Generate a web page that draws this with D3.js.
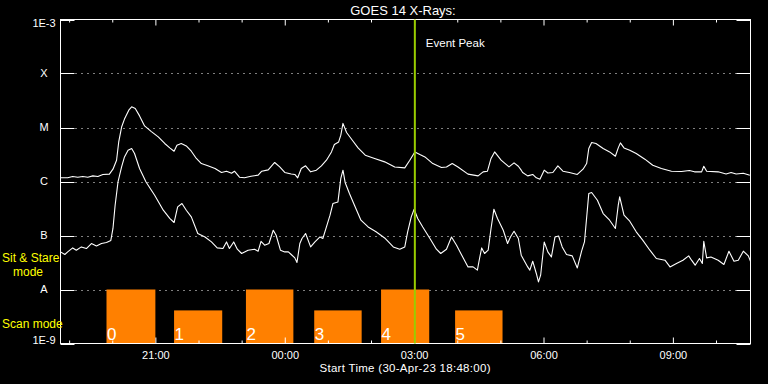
<!DOCTYPE html>
<html>
<head>
<meta charset="utf-8">
<script src="https://cdn.jsdelivr.net/npm/d3@7"></script>
<style>
  html, body { margin: 0; padding: 0; background: #000; }
  svg { display: block; }
  text { font-family: "Liberation Sans", Arial, sans-serif; fill: #fff; }
</style>
</head>
<body>
<script>
// ---------------- DATA ----------------
const startTime = "2023-04-30T18:48:00Z";
const durationMinutes = 960;
const titleText = "GOES 14 X-Rays:";
const xAxisTitle = "Start Time (30-Apr-23 18:48:00)";

const yTickValues = [1e-9, 1e-8, 1e-7, 1e-6, 1e-5, 1e-4, 1e-3];
const yTickLabels = ["1E-9", "A", "B", "C", "M", "X", "1E-3"];

// Long channel (1-8 A), minutes after start / flux W m^-2
const longMinutes = [0,10,17,24,31,38,45,52,59,68,
  73,78,81,85,89,95,99,104,110,117,
  126,136,145,152,158,162,168,175,182,189,
  196,205,215,224,231,238,242,249,256,265,
  275,280,289,298,305,312,321,326,330,335,
  341,348,356,363,370,377,381,387,390,393,
  398,405,414,424,437,451,465,479,486,493,
  500,507,518,530,537,545,553,567,581,588,
  594,599,604,613,624,631,637,641,643,650,
  657,662,667,673,678,685,692,699,708,719,
  727,732,735,739,745,755,764,772,776,779,
  784,792,801,813,824,836,850,864,875,882,
  892,895,899,915,926,933,940,950,959];
const longFlux = [1.17e-6,1.17e-6,1.24e-6,1.2e-6,1.24e-6,1.2e-6,1.27e-6,1.24e-6,1.35e-6,1.37e-6,
  1.69e-6,2.48e-6,5.4e-6,1.02e-5,1.43e-5,2.09e-5,2.41e-5,2.25e-5,1.64e-5,1.07e-5,
  8.5e-6,6.7e-6,5.06e-6,4.19e-6,3.64e-6,4.7e-6,5.06e-6,4.56e-6,3.64e-6,2.67e-6,
  2.15e-6,1.95e-6,1.74e-6,1.47e-6,1.55e-6,1.42e-6,1.55e-6,1.2e-6,1.17e-6,1.25e-6,
  1.31e-6,1.55e-6,1.64e-6,2.25e-6,1.86e-6,1.47e-6,1.38e-6,1.35e-6,1.17e-6,1.74e-6,
  1.95e-6,1.51e-6,1.62e-6,1.95e-6,2.48e-6,3.53e-6,4.84e-6,5.41e-6,7.2e-6,1.19e-5,
  8.09e-6,6.07e-6,4.19e-6,3.07e-6,2.67e-6,2.31e-6,1.86e-6,1.79e-6,2.48e-6,3.53e-6,
  3.16e-6,2.85e-6,2.15e-6,1.82e-6,1.86e-6,2.15e-6,1.86e-6,1.37e-6,1.27e-6,1.51e-6,
  1.55e-6,2.67e-6,3.53e-6,2.48e-6,1.86e-6,2.21e-6,1.92e-6,1.62e-6,1.47e-6,1.27e-6,
  1.35e-6,1.17e-6,1.1e-6,1.62e-6,1.44e-6,1.47e-6,1.95e-6,1.55e-6,1.47e-6,1.35e-6,
  1.69e-6,2.15e-6,4.08e-6,5.27e-6,5.06e-6,4.08e-6,3.53e-6,2.94e-6,4.19e-6,5.19e-6,
  4.19e-6,3.8e-6,3.3e-6,2.59e-6,2.0e-6,1.74e-6,1.55e-6,1.53e-6,1.6e-6,1.51e-6,
  1.51e-6,1.92e-6,1.55e-6,1.51e-6,1.38e-6,1.47e-6,1.38e-6,1.42e-6,1.31e-6];

// Short channel (0.5-4 A)
const shortMinutes = [0,6,10,17,22,29,36,43,50,57,
  64,70,73,76,80,85,89,94,99,103,
  110,119,131,143,152,158,163,169,175,182,
  191,201,210,218,226,231,235,241,246,252,
  261,270,275,279,284,290,296,300,306,312,
  317,321,326,329,333,336,341,348,354,361,
  365,370,375,379,386,390,393,396,402,409,
  418,428,439,451,463,472,479,483,488,492,
  497,504,514,523,529,537,544,551,557,567,
  574,580,583,586,590,595,599,603,608,616,
  622,626,631,637,641,650,653,657,662,665,
  668,673,678,683,688,693,698,704,712,719,
  725,729,735,739,747,755,764,772,776,778,
  784,792,801,810,820,829,841,848,857,866,
  874,878,883,889,893,895,899,905,915,923,
  930,937,943,950,957,960];
const shortFlux = [4.97e-8,4.45e-8,4.97e-8,5.89e-8,5.34e-8,6.15e-8,5.74e-8,7.1e-8,6.4e-8,7.1e-8,
  7.4e-8,8.1e-8,1.35e-7,3.64e-7,9.8e-7,1.86e-6,2.85e-6,3.8e-6,4.08e-6,3.3e-6,
  1.74e-6,9.8e-7,5.57e-7,2.94e-7,2.07e-7,1.74e-7,3.38e-7,3.91e-7,2.94e-7,2.21e-7,
  1.09e-7,9.4e-8,7.6e-8,5.89e-8,5.74e-8,7.6e-8,5.74e-8,7.6e-8,5.57e-8,4.64e-8,
  5.34e-8,5.57e-8,5.12e-8,7.8e-8,6.6e-8,7.1e-8,1.25e-7,1.01e-7,5.34e-8,4.97e-8,
  4.97e-8,4.45e-8,3.85e-8,3.16e-8,7.1e-8,8.8e-8,1.09e-7,6.15e-8,7.6e-8,9.4e-8,
  8.8e-8,1.44e-7,2.38e-7,3.91e-7,4.19e-7,1.14e-6,1.62e-6,9.6e-7,6.0e-7,3.64e-7,
  1.92e-7,1.44e-7,1.17e-7,9.0e-8,6.15e-8,5.57e-8,6.15e-8,1.17e-7,2.21e-7,3.07e-7,
  2.07e-7,1.44e-7,8.8e-8,5.57e-8,4.64e-8,5.57e-8,9.4e-8,6.6e-8,4.64e-8,2.62e-8,
  2.62e-8,2.28e-8,3.75e-8,5.89e-8,4.64e-8,5.34e-8,1.35e-7,3.07e-7,2.07e-7,1.25e-7,
  7.1e-8,9.4e-8,1.2e-7,8.8e-8,4.32e-8,2.62e-8,2.28e-8,3.34e-8,1.98e-8,1.38e-8,
  1.84e-8,7.6e-8,4.97e-8,4.01e-8,9.4e-8,9.8e-8,6.15e-8,4.45e-8,4.19e-8,2.51e-8,
  5.12e-8,7.6e-8,6.0e-7,6.25e-7,4.5e-7,2.55e-7,1.92e-7,1.35e-7,3.64e-7,5.19e-7,
  2.38e-7,1.84e-7,1.17e-7,8.2e-8,5.34e-8,3.75e-8,3.49e-8,2.62e-8,3.03e-8,3.49e-8,
  4.19e-8,3.49e-8,2.82e-8,3.75e-8,3.03e-8,7.8e-8,3.85e-8,4.01e-8,3.49e-8,2.9e-8,
  5.12e-8,3.34e-8,3.49e-8,5.12e-8,4.19e-8,3.34e-8];

// Observing-mode blocks
const blockLabels = ["0","1","2","3","4","5"];
const blockStarts = ["19:52","21:26","23:06","00:41","02:14","03:57"];
const blockEnds   = ["21:00","22:33","00:12","01:47","03:21","05:03"];
const blockModes  = ["stare","scan","stare","scan","stare","scan"];
const modeNames = ["stare","scan"];
const modeLevels = [1e-8, 4.1e-9];

const eventPeakTime = "03:01";
const eventPeakLabel = "Event Peak";

// ---------------- HELPERS ----------------
const t0 = new Date(startTime);
const fromMinutes = m => new Date(t0.getTime() + m * 60000);
function fromClock(s) {
  const [h, m] = s.split(":").map(Number);
  const d = new Date(Date.UTC(2023, 3, 30, h, m));
  if (h < 12) d.setUTCDate(d.getUTCDate() + 1);
  return d;
}
const modeLevel = m => modeLevels[modeNames.indexOf(m)];

// ---------------- CHART ----------------
const W = 768, H = 384;
const L = 60.5, R = 750.5, T = 19.5, B = 343.5;

const svg = d3.select("body").append("svg")
  .attr("width", W).attr("height", H)
  .style("background", "#000");

const x = d3.scaleUtc().domain([t0, fromMinutes(durationMinutes)]).range([L, R]);
const y = d3.scaleLog().domain([1e-9, 1e-3]).range([B, T]);

// dotted grid lines
svg.append("g").selectAll("line")
  .data(yTickValues.slice(1, -1))
  .join("line")
  .attr("x1", L).attr("x2", R)
  .attr("y1", d => Math.round(y(d)) + 0.5).attr("y2", d => Math.round(y(d)) + 0.5)
  .attr("stroke", "#fff").attr("stroke-width", 1)
  .attr("stroke-dasharray", "1,5").attr("stroke-dashoffset", -3);

// curves
const line = d3.line().x(d => x(d[0])).y(d => y(d[1]));
const longData = d3.zip(longMinutes.map(fromMinutes), longFlux);
const shortData = d3.zip(shortMinutes.map(fromMinutes), shortFlux);
[longData, shortData].forEach(data => {
  svg.append("path").datum(data)
    .attr("d", line)
    .attr("fill", "none").attr("stroke", "#fff").attr("stroke-width", 1.1)
    .attr("stroke-linejoin", "round");
});

// observing-mode bars
const blocks = blockLabels.map((lab, i) => ({
  lab, s: fromClock(blockStarts[i]), e: fromClock(blockEnds[i]), mode: blockModes[i]
}));
svg.append("g").selectAll("rect").data(blocks).join("rect")
  .attr("x", d => x(d.s)).attr("width", d => x(d.e) - x(d.s))
  .attr("y", d => y(modeLevel(d.mode))).attr("height", d => B - y(modeLevel(d.mode)))
  .attr("fill", "#ff8000");
svg.append("g").selectAll("text").data(blocks).join("text")
  .attr("x", d => x(d.s) + 0.5).attr("y", B - 3.5)
  .style("font-size", "17px")
  .text(d => d.lab);

// frame
svg.append("rect").attr("x", L).attr("y", T).attr("width", R - L).attr("height", B - T)
  .attr("fill", "none").attr("stroke", "#fff").attr("stroke-width", 1);

// y ticks (both sides)
const yt = svg.append("g");
yTickValues.forEach(v => {
  const yy = Math.round(y(v)) + 0.5;
  yt.append("line").attr("x1", L).attr("x2", L + 14).attr("y1", yy).attr("y2", yy)
    .attr("stroke", "#fff");
  yt.append("line").attr("x1", R - 14).attr("x2", R).attr("y1", yy).attr("y2", yy)
    .attr("stroke", "#fff");
});
svg.append("g").selectAll("text").data(yTickValues).join("text")
  .attr("x", 44).attr("text-anchor", "middle")
  .attr("y", (d, i) => y(d) + 3.9 + (i === yTickValues.length - 1 ? 3.5 : 0) + (i === 0 ? -3.3 : 0))
  .style("font-size", "11px")
  .text((d, i) => yTickLabels[i]);

// x ticks
const hours = d3.utcHour.range(fromMinutes(1), fromMinutes(durationMinutes));
const major = hours.filter(d => d.getUTCHours() % 3 === 0);
const minor = hours.filter(d => d.getUTCHours() % 3 !== 0);

function styleAxis(g) {
  g.select(".domain").remove();
  g.selectAll(".tick line").attr("stroke", "#fff");
  g.selectAll(".tick text").attr("fill", "#fff")
    .style("font-family", "'Liberation Sans', Arial, sans-serif").style("font-size", "11px");
}
svg.append("g").attr("transform", `translate(0,${B})`)
  .call(d3.axisBottom(x).tickValues(minor).tickSize(-3).tickFormat(""))
  .call(styleAxis);
svg.append("g").attr("transform", `translate(0,${B})`)
  .call(d3.axisBottom(x).tickValues(major).tickSize(-6).tickPadding(8)
    .tickFormat(d3.utcFormat("%H:%M")))
  .call(styleAxis);
svg.append("g").attr("transform", `translate(0,${T})`)
  .call(d3.axisTop(x).tickValues(minor).tickSize(-3).tickFormat(""))
  .call(styleAxis);
svg.append("g").attr("transform", `translate(0,${T})`)
  .call(d3.axisTop(x).tickValues(major).tickSize(-6).tickFormat(""))
  .call(styleAxis);

// event peak
const xp = x(fromClock(eventPeakTime));
svg.append("line").attr("x1", xp).attr("x2", xp).attr("y1", T).attr("y2", B)
  .attr("stroke", "#99cc00").attr("stroke-width", 2);
svg.append("text").attr("x", xp + 11).attr("y", 47)
  .style("font-size", "11.5px").text(eventPeakLabel);

// titles
svg.append("text").attr("x", 403).attr("y", 14.5).attr("text-anchor", "middle")
  .style("font-size", "13px").text(titleText);
svg.append("text").attr("x", 405).attr("y", 372).attr("text-anchor", "middle")
  .style("font-size", "11.5px").attr("textLength", 171).text(xAxisTitle);

// mode labels
const yellow = "#ffff00";
svg.append("text").attr("x", 2).attr("y", 262).style("fill", yellow)
  .style("font-size", "12px").text("Sit & Stare");
svg.append("text").attr("x", 13).attr("y", 276).style("fill", yellow)
  .style("font-size", "12px").text("mode");
svg.append("text").attr("x", 2).attr("y", 328).style("fill", yellow)
  .style("font-size", "12px").text("Scan mode");
</script>
</body>
</html>
